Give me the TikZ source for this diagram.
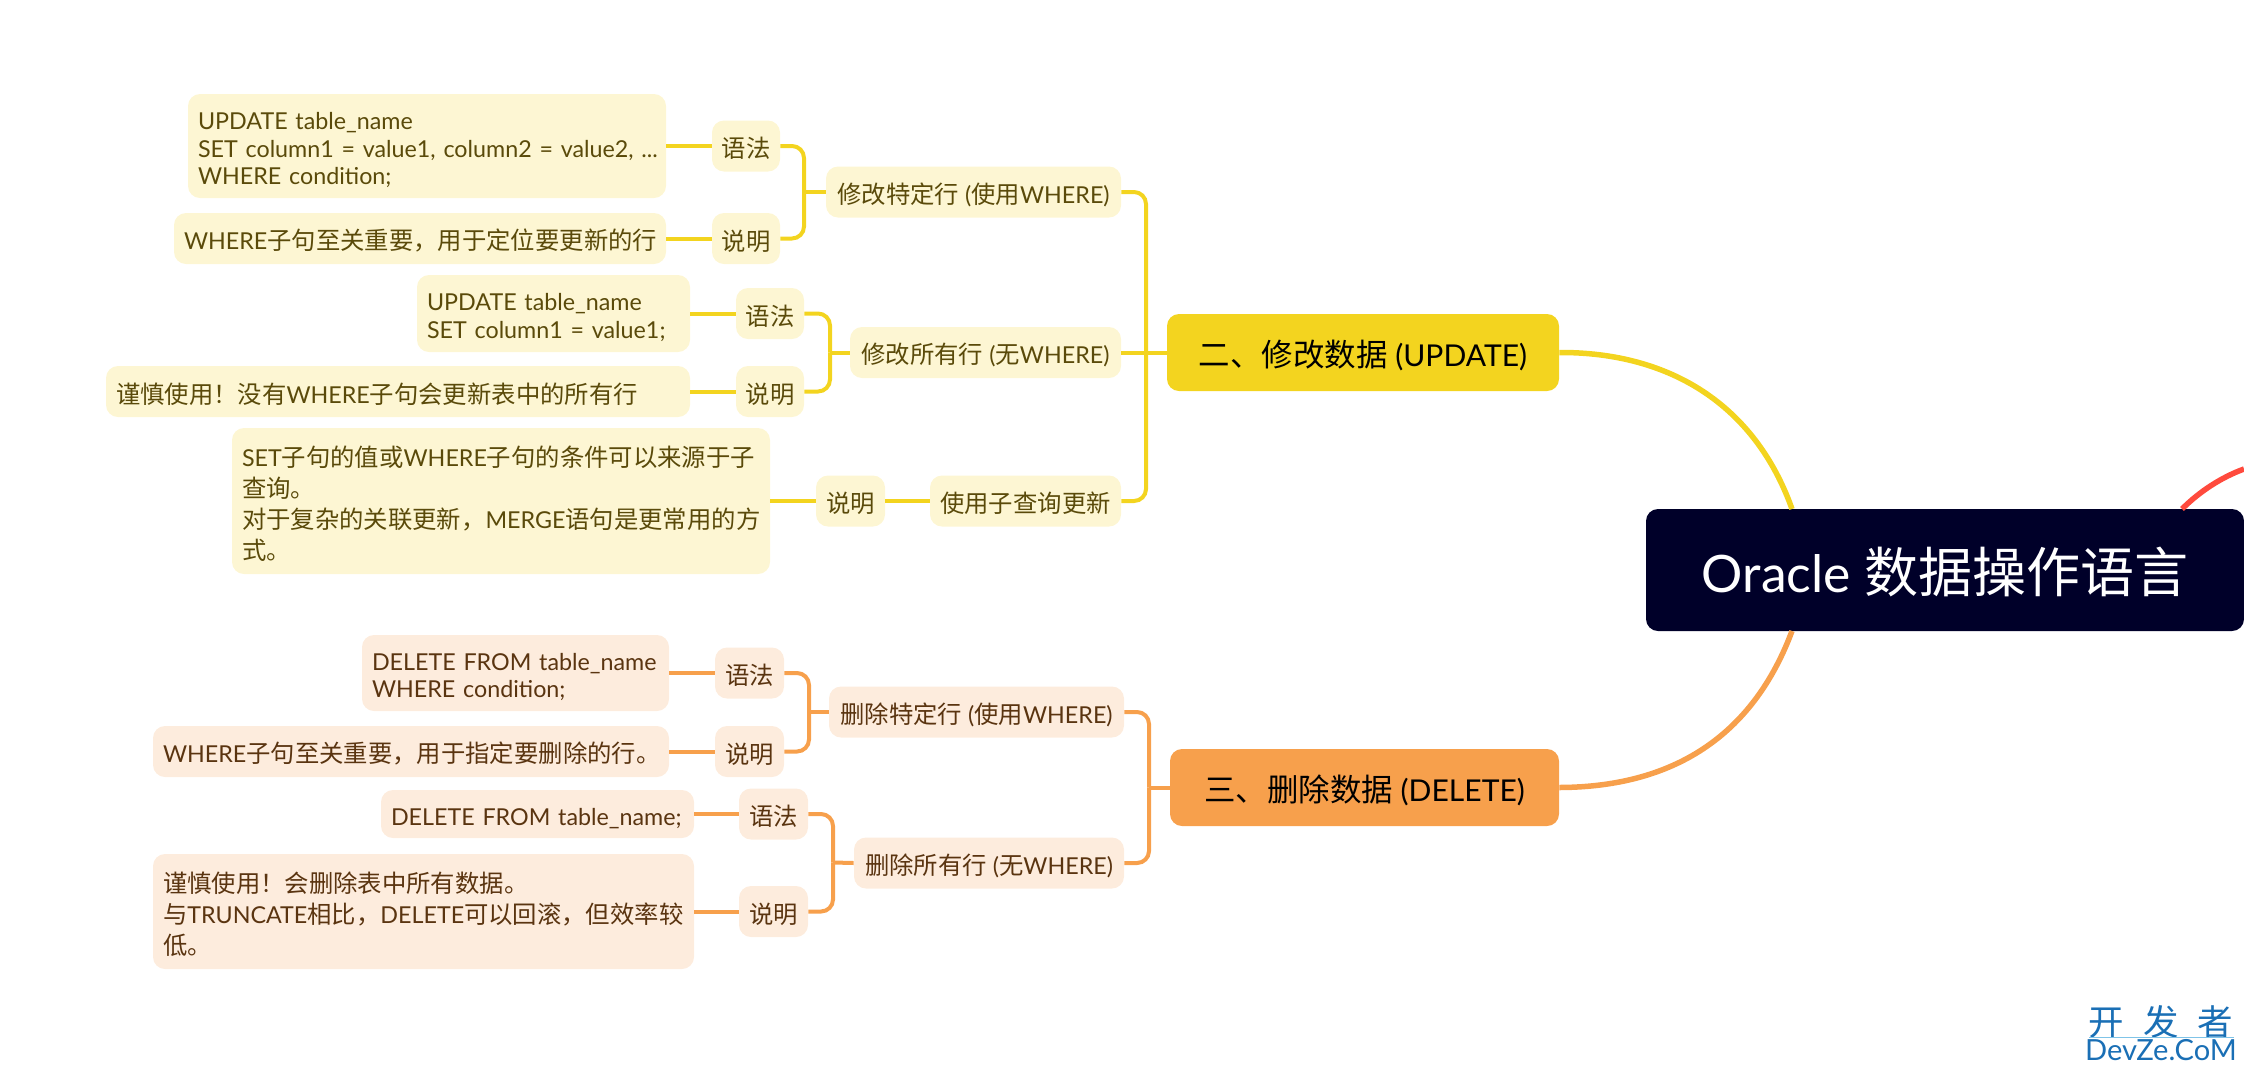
\documentclass[tikz,border=0pt]{standalone}
\usepackage{fontspec}
\setmainfont[Scale=0.97]{Lato}
\newfontfamily\cjk[Scale=1.015]{Noto Sans CJK SC}
\newcommand{\zh}[1]{{\cjk #1}}
\definecolor{rootc}{HTML}{000029}
\definecolor{redl}{HTML}{FF4A3D}
\definecolor{yel}{HTML}{F3D41F}
\definecolor{yell}{HTML}{FDF6D3}
\definecolor{yelt}{HTML}{5A4A0A}
\definecolor{org}{HTML}{F7A04C}
\definecolor{orgl}{HTML}{FDECDD}
\definecolor{orgt}{HTML}{5A3410}
\definecolor{mark}{HTML}{1A6FB5}
\definecolor{markl}{HTML}{7FC4E8}
\tikzstyle{root}=[fill=rootc, text=white, rounded corners=6pt, inner sep=0pt, minimum width=299pt, minimum height=61pt, font=\fontsize{26.6}{30}\selectfont, execute at begin node=\rule{0pt}{25pt}]
\tikzstyle{topic}=[rounded corners=6pt, inner sep=0pt, minimum height=38.5pt, text=black, font=\fontsize{15.5}{18}\selectfont, execute at begin node=\rule{0pt}{16.5pt}]
\tikzstyle{ysub}=[fill=yell, text=yelt, rounded corners=6pt, inner sep=0pt, minimum height=25.5pt, font=\fontsize{12}{14}\selectfont, execute at begin node=\rule{0pt}{12.7pt}]
\tikzstyle{osub}=[ysub, fill=orgl, text=orgt]
\tikzstyle{ytxt}=[ysub, inner xsep=5pt, align=left, font=\fontsize{12}{13.7}\selectfont, execute at begin node=\rule{0pt}{12pt}]
\tikzstyle{otxt}=[ytxt, fill=orgl, text=orgt]
\tikzstyle{yline}=[yel, line width=2pt, rounded corners=6pt]
\tikzstyle{oline}=[org, line width=2pt, rounded corners=6pt]

\begin{document}
\begin{tikzpicture}[x=0.5pt, y=-0.5pt]
  \useasboundingbox (0,0) rectangle (2244,1072);

  % update branch
  \node[ytxt, text width=229pt, minimum height=52pt] (T1) at (427,146) {\mbox{UPDATE table\_name}\\\mbox{SET column1 = value1, column2 = value2, ...}\\\mbox{WHERE condition;}};
  \node[ytxt, text width=236pt] (T2) at (420,238.5) {WHERE\zh{子句至关重要，用于定位要更新的行}};
  \node[ysub, minimum width=34pt] (G1) at (746,146) {\zh{语法}};
  \node[ysub, minimum width=34pt] (E1) at (746,238.5) {\zh{说明}};
  \path[yline] (T1) edge (G1);
  \path[yline] (T2) edge (E1);

  \node[ytxt, text width=126.5pt, minimum height=38.5pt] (T3) at (553.5,313.5) {\mbox{UPDATE table\_name}\\\mbox{SET column1 = value1;}};
  \node[ytxt, text width=282pt] (T4) at (398,391.5) {\zh{谨慎使用！没有}WHERE\zh{子句会更新表中的所有行}};
  \node[ysub, minimum width=34pt] (G2) at (770,313.5) {\zh{语法}};
  \node[ysub, minimum width=34pt] (E2) at (770,391.5) {\zh{说明}};
  \path[yline] (T3) edge (G2);
  \path[yline] (T4) edge (E2);

  \node[ytxt, text width=259pt, minimum height=73pt, font=\fontsize{12}{15.5}\selectfont] (T5) at (501,501) {SET\zh{子句的值或}WHERE\zh{子句的条件可以来源于子}\\\zh{查询。}\\\zh{对于复杂的关联更新，}MERGE\zh{语句是更常用的方}\\\zh{式。}};
  \node[ysub, minimum width=34.5pt] (E3) at (850.5,501) {\zh{说明}};
  \path[yline] (T5) edge (E3);

  \node[ysub, minimum width=147.5pt] (U1) at (973.5,192) {\zh{修改特定行} (\zh{使用}WHERE)};
  \node[ysub, minimum width=135.5pt] (U2) at (985.5,352.5) {\zh{修改所有行} (\zh{无}WHERE)};
  \node[ysub, minimum width=95.5pt] (U3) at (1025.5,501) {\zh{使用子查询更新}};
  \path[yline] (E3) edge (U3);

  \coordinate (B1) at (804,192);
  \coordinate (B2) at (830,352.5);
  \draw[yline] (G1.east) -| (B1);
  \draw[yline] (E1.east) -| (B1);
  \draw[yline] (B1) -- (U1.west);
  \draw[yline] (G2.east) -| (B2);
  \draw[yline] (E2.east) -| (B2);
  \draw[yline] (B2) -- (U2.west);

  \node[topic, fill=yel, minimum width=196pt] (UP) at (1363,352.5) {\zh{二、修改数据} (UPDATE)};
  \coordinate (B3) at (1146,352.5);
  \draw[yline] (U1.east) -| (B3);
  \draw[yline] (U3.east) -| (B3);
  \draw[yline] (U2.east) -- (UP.west);

  % delete branch
  \node[otxt, text width=143.5pt, minimum height=38pt] (T6) at (515.5,673) {\mbox{DELETE FROM table\_name}\\\mbox{WHERE condition;}};
  \node[otxt, text width=248pt] (T7) at (411,751.5) {WHERE\zh{子句至关重要，用于指定要删除的行。}};
  \node[osub, minimum width=34.5pt] (G3) at (749.5,673) {\zh{语法}};
  \node[osub, minimum width=34.5pt] (E4) at (749.5,751.5) {\zh{说明}};
  \path[oline] (T6) edge (G3);
  \path[oline] (T7) edge (E4);

  \node[otxt, text width=146.5pt, minimum height=24pt] (T8) at (537.5,814) {\mbox{DELETE FROM table\_name;}};
  \node[otxt, text width=260.5pt, minimum height=57.5pt, font=\fontsize{12}{15.5}\selectfont] (T9) at (423.5,911.5) {\zh{谨慎使用！会删除表中所有数据。}\\\zh{与}TRUNCATE\zh{相比，}DELETE\zh{可以回滚，但效率较}\\\zh{低。}};
  \node[osub, minimum width=34.5pt] (G4) at (773.5,814) {\zh{语法}};
  \node[osub, minimum width=34.5pt] (E5) at (773.5,911.5) {\zh{说明}};
  \path[oline] (T8) edge (G4);
  \path[oline] (T9) edge (E5);

  \node[osub, minimum width=147.5pt] (D1) at (976.5,712) {\zh{删除特定行} (\zh{使用}WHERE)};
  \node[osub, minimum width=135pt] (D2) at (989,863) {\zh{删除所有行} (\zh{无}WHERE)};

  \coordinate (B4) at (809,712);
  \coordinate (B5) at (833,862.5);
  \draw[oline] (G3.east) -| (B4);
  \draw[oline] (E4.east) -| (B4);
  \draw[oline] (B4) -- (D1.west);
  \draw[oline] (G4.east) -| (B5);
  \draw[oline] (E5.east) -| (B5);
  \draw[oline] (B5) -- (D2.west);

  \node[topic, fill=org, minimum width=194.5pt] (DE) at (1364.5,787.5) {\zh{三、删除数据} (DELETE)};
  \coordinate (B6) at (1149,787.5);
  \draw[oline] (D1.east) -| (B6);
  \draw[oline] (D2.east) -| (B6);
  \draw[oline] (B6) -- (DE.west);

  % root and the big curves
  \node[root] (R) at (1945,570) {Oracle \zh{数据操作语言}\hspace{4pt}};
  \coordinate (RU) at (1792,509);
  \coordinate (RD) at (1792,631);
  \coordinate (RR) at (2182,509);
  \coordinate (RE) at (2244,469);
  \draw[yel, line width=2.75pt] (UP.east) .. controls (1670,352) and (1755,405) .. (RU);
  \draw[org, line width=2.75pt] (DE.east) .. controls (1680,787) and (1755,730) .. (RD);
  \draw[redl, line width=2.75pt] (RR) .. controls (2200,491) and (2222,477) .. (RE);

  % watermark
  \node[text=mark, inner sep=0pt, font=\fontsize{17.5}{20}\selectfont] (W1) at (2161,1022) {\zh{开\hspace{9.5pt}发\hspace{9.5pt}者}};
  \node[text=mark, inner sep=0pt, font=\fontsize{15}{17}\selectfont] (W2) at (2161,1050) {DevZe.CoM};
  \coordinate (W3) at (2089,1037);
  \coordinate (W4) at (2234,1037);
  \draw[markl, line width=0.5pt] (W3) -- (W4);
\end{tikzpicture}
\end{document}
